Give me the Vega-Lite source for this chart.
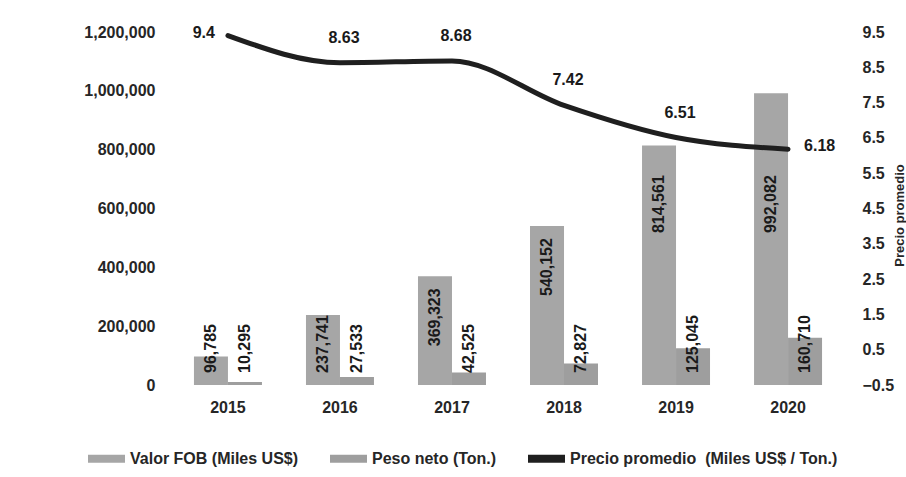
{
  "$schema": "https://vega.github.io/schema/vega-lite/v6.json",
  "width": 672,
  "height": 353,
  "autosize": {"type": "none"},
  "padding": {"left": 172, "top": 32, "right": 62, "bottom": 92},
  "background": "white",
  "config": {
    "view": {"stroke": null},
    "font": "Liberation Sans",
    "axis": {"labelFont": "Liberation Sans", "labelFontSize": 16, "labelFontWeight": "bold", "labelColor": "#262626", "grid": false, "domain": false, "ticks": false}
  },
  "datasets": {
    "bars": [
      {"year": "2015", "serie": "Valor FOB (Miles US$)", "value": 96785},
      {"year": "2015", "serie": "Peso neto (Ton.)", "value": 10295},
      {"year": "2016", "serie": "Valor FOB (Miles US$)", "value": 237741},
      {"year": "2016", "serie": "Peso neto (Ton.)", "value": 27533},
      {"year": "2017", "serie": "Valor FOB (Miles US$)", "value": 369323},
      {"year": "2017", "serie": "Peso neto (Ton.)", "value": 42525},
      {"year": "2018", "serie": "Valor FOB (Miles US$)", "value": 540152},
      {"year": "2018", "serie": "Peso neto (Ton.)", "value": 72827},
      {"year": "2019", "serie": "Valor FOB (Miles US$)", "value": 814561},
      {"year": "2019", "serie": "Peso neto (Ton.)", "value": 125045},
      {"year": "2020", "serie": "Valor FOB (Miles US$)", "value": 992082},
      {"year": "2020", "serie": "Peso neto (Ton.)", "value": 160710}
    ],
    "precio": [
      {"year": "2015", "precio": 9.4},
      {"year": "2016", "precio": 8.63},
      {"year": "2017", "precio": 8.68},
      {"year": "2018", "precio": 7.42},
      {"year": "2019", "precio": 6.51},
      {"year": "2020", "precio": 6.18}
    ]
  },
  "encoding": {
    "x": {
      "field": "year", "type": "nominal",
      "scale": {"paddingInner": 0.393, "paddingOuter": 0.196},
      "axis": {"title": null, "labelAngle": 0, "labelPadding": 14}
    }
  },
  "layer": [
    {
      "data": {"name": "bars"},
      "encoding": {
        "xOffset": {"field": "serie", "type": "nominal", "sort": ["Valor FOB (Miles US$)", "Peso neto (Ton.)"], "scale": {"paddingInner": 0, "paddingOuter": 0}}
      },
      "layer": [
        {
          "mark": {"type": "bar"},
          "encoding": {
            "y": {
              "field": "value", "type": "quantitative",
              "scale": {"domain": [0, 1200000], "nice": false, "zero": true},
              "axis": {"title": null, "orient": "left", "values": [0, 200000, 400000, 600000, 800000, 1000000, 1200000], "format": ",d", "labelPadding": 17}
            },
            "color": {
              "field": "serie", "type": "nominal",
              "scale": {
                "domain": ["Valor FOB (Miles US$)", "Peso neto (Ton.)", "Precio promedio\u00a0\u00a0(Miles US$ / Ton.)"],
                "range": ["#a6a6a6", "#9e9e9e", "#1f1f1f"]
              },
              "legend": {
                "title": null,
                "orient": "none",
                "direction": "horizontal",
                "legendX": -84,
                "legendY": 408,
                "symbolType": "M-1,-0.22H1V0.22H-1Z",
                "symbolSize": 1369,
                "symbolStrokeWidth": 0,
                "symbolOpacity": 1,
                "labelFont": "Liberation Sans",
                "labelFontSize": 16,
                "labelFontWeight": "bold",
                "labelColor": "#262626",
                "labelOffset": 5,
                "columnPadding": 31,
                "labelLimit": 400
              }
            }
          }
        },
        {
          "transform": [{"filter": "datum.value < 300000"}],
          "mark": {"type": "text", "angle": 270, "align": "left", "baseline": "middle", "dx": 12, "fontSize": 16, "fontWeight": "bold", "color": "#1a1a1a"},
          "encoding": {
            "y": {"datum": 0, "type": "quantitative"},
            "text": {"field": "value", "type": "quantitative", "format": ",d"}
          }
        },
        {
          "transform": [{"filter": "datum.value >= 300000 && datum.value < 600000"}],
          "mark": {"type": "text", "angle": 270, "align": "right", "baseline": "middle", "dx": -12, "fontSize": 16, "fontWeight": "bold", "color": "#1a1a1a"},
          "encoding": {
            "y": {"field": "value", "type": "quantitative"},
            "text": {"field": "value", "type": "quantitative", "format": ",d"}
          }
        },
        {
          "transform": [{"filter": "datum.value >= 600000"}],
          "mark": {"type": "text", "angle": 270, "align": "right", "baseline": "middle", "dx": -2, "fontSize": 16, "fontWeight": "bold", "color": "#1a1a1a"},
          "encoding": {
            "y": {"datum": 720000, "type": "quantitative"},
            "text": {"field": "value", "type": "quantitative", "format": ",d"}
          }
        }
      ]
    },
    {
      "data": {"name": "precio"},
      "encoding": {
        "y": {
          "field": "precio", "type": "quantitative",
          "scale": {"domain": [-0.5, 9.5], "nice": false, "zero": false},
          "axis": {
            "orient": "right", "values": [-0.5, 0.5, 1.5, 2.5, 3.5, 4.5, 5.5, 6.5, 7.5, 8.5, 9.5], "format": ".1f", "labelPadding": 18,
            "title": "Precio promedio", "titleFont": "Liberation Sans", "titleFontSize": 13, "titleFontWeight": "bold", "titleColor": "#262626",
            "titleAngle": 270, "titleX": 49, "titleY": 183, "titleAlign": "center", "titleBaseline": "top"
          }
        }
      },
      "layer": [
        {
          "mark": {"type": "line", "color": "#1f1f1f", "strokeWidth": 5, "strokeCap": "round", "strokeJoin": "round", "interpolate": "monotone"}
        },
        {
          "transform": [{"filter": "datum.year == '2015'"}],
          "mark": {"type": "text", "align": "right", "baseline": "middle", "dx": -13, "dy": -3, "fontSize": 16, "fontWeight": "bold", "color": "#1a1a1a"},
          "encoding": {"text": {"field": "precio", "type": "quantitative"}}
        },
        {
          "transform": [{"filter": "datum.year != '2015' && datum.year != '2020'"}],
          "mark": {"type": "text", "align": "center", "baseline": "middle", "dx": 4, "dy": -25, "fontSize": 16, "fontWeight": "bold", "color": "#1a1a1a"},
          "encoding": {"text": {"field": "precio", "type": "quantitative"}}
        },
        {
          "transform": [{"filter": "datum.year == '2020'"}],
          "mark": {"type": "text", "align": "left", "baseline": "middle", "dx": 16, "dy": -3, "fontSize": 16, "fontWeight": "bold", "color": "#1a1a1a"},
          "encoding": {"text": {"field": "precio", "type": "quantitative"}}
        }
      ]
    }
  ],
  "resolve": {"scale": {"y": "independent"}}
}
